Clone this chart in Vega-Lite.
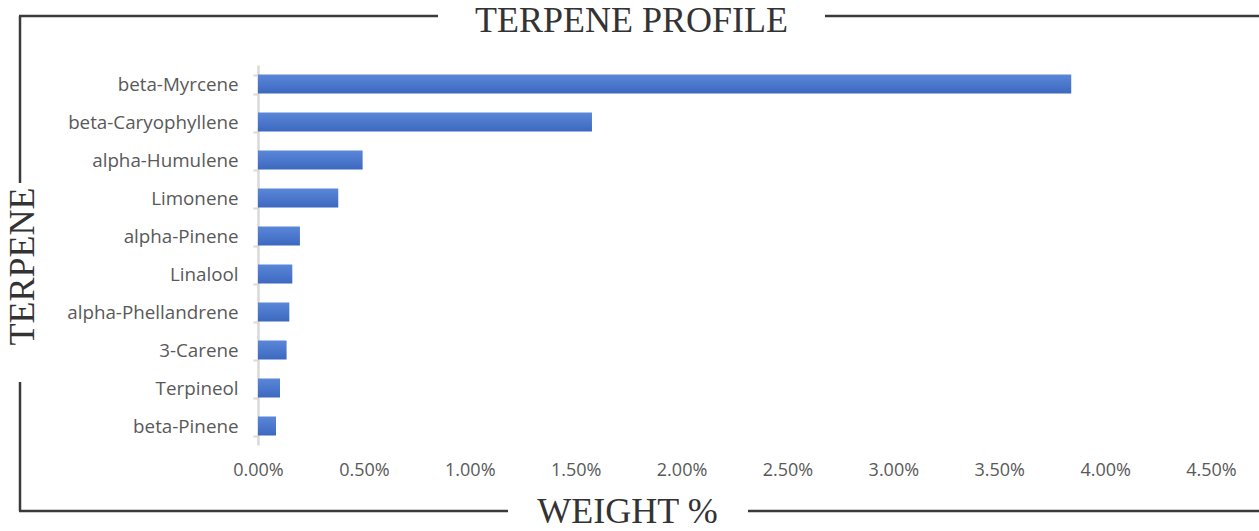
{
  "$schema": "https://vega.github.io/schema/vega-lite/v6.json",
  "autosize": {"type": "none"},
  "padding": {"left": 258, "top": 65, "right": 48, "bottom": 86},
  "width": 953,
  "height": 380,
  "background": "white",
  "config": {"view": {"stroke": null}},
  "title": {
    "text": "TERPENE PROFILE",
    "font": "Liberation Serif",
    "fontSize": 36,
    "fontWeight": "normal",
    "color": "#333333",
    "anchor": "middle",
    "frame": "group",
    "baseline": "alphabetic",
    "dx": -103,
    "offset": -53
  },
  "layer": [
    {
      "data": {
        "values": [
          {"terpene": "beta-Myrcene", "weight": 0.0384},
          {"terpene": "beta-Caryophyllene", "weight": 0.01577},
          {"terpene": "alpha-Humulene", "weight": 0.00494},
          {"terpene": "Limonene", "weight": 0.00379},
          {"terpene": "alpha-Pinene", "weight": 0.00198},
          {"terpene": "Linalool", "weight": 0.00162},
          {"terpene": "alpha-Phellandrene", "weight": 0.00148},
          {"terpene": "3-Carene", "weight": 0.00135},
          {"terpene": "Terpineol", "weight": 0.00104},
          {"terpene": "beta-Pinene", "weight": 0.00085}
        ]
      },
      "mark": {
        "type": "bar",
        "color": {
          "gradient": "linear",
          "x1": 0, "y1": 0, "x2": 0, "y2": 1,
          "stops": [
            {"offset": 0, "color": "#5b87d9"},
            {"offset": 1, "color": "#3c68bf"}
          ]
        }
      },
      "encoding": {
        "y": {
          "field": "terpene",
          "type": "nominal",
          "sort": null,
          "scale": {"paddingInner": 0.5, "paddingOuter": 0.25},
          "axis": {
            "title": "TERPENE",
            "titleFont": "Liberation Serif",
            "titleFontSize": 36,
            "titleFontWeight": "normal",
            "titleColor": "#333333",
            "titleAngle": -90,
            "titleAlign": "center",
            "titleBaseline": "middle",
            "titleX": -236,
            "titleY": 201,
            "labelFont": "Open Sans",
            "labelFontSize": 18.8,
            "labelColor": "#595959",
            "labelPadding": 15,
            "domainColor": "#d9d9d9",
            "domainWidth": 2.5,
            "tickColor": "#d9d9d9",
            "tickWidth": 2,
            "tickSize": 5,
            "tickBand": "extent",
            "grid": false
          }
        },
        "x": {
          "field": "weight",
          "type": "quantitative",
          "scale": {"domain": [0, 0.045], "nice": false},
          "axis": {
            "values": [0, 0.005, 0.01, 0.015, 0.02, 0.025, 0.03, 0.035, 0.04, 0.045],
            "format": ".2%",
            "title": "WEIGHT %",
            "titleFont": "Liberation Serif",
            "titleFontSize": 36,
            "titleFontWeight": "normal",
            "titleColor": "#333333",
            "titleAlign": "center",
            "titleBaseline": "alphabetic",
            "titleX": 369,
            "titleY": 77,
            "labelFont": "Open Sans",
            "labelFontSize": 18,
            "labelColor": "#595959",
            "labelPadding": 16,
            "labelFlush": false,
            "domain": false,
            "ticks": false,
            "grid": false
          }
        }
      }
    },
    {
      "data": {"values": [{}]},
      "mark": {"type": "rule", "stroke": "#3a3a3a", "strokeWidth": 2.5},
      "encoding": {"x": {"value": -239}, "x2": {"value": 180}, "y": {"value": -49}}
    },
    {
      "data": {"values": [{}]},
      "mark": {"type": "rule", "stroke": "#3a3a3a", "strokeWidth": 2.5},
      "encoding": {"x": {"value": 567}, "x2": {"value": 1001}, "y": {"value": -49}}
    },
    {
      "data": {"values": [{}]},
      "mark": {"type": "rule", "stroke": "#3a3a3a", "strokeWidth": 2.5},
      "encoding": {"x": {"value": -238}, "y": {"value": -49}, "y2": {"value": 118}}
    },
    {
      "data": {"values": [{}]},
      "mark": {"type": "rule", "stroke": "#3a3a3a", "strokeWidth": 2.5},
      "encoding": {"x": {"value": -238}, "y": {"value": 317}, "y2": {"value": 446}}
    },
    {
      "data": {"values": [{}]},
      "mark": {"type": "rule", "stroke": "#3a3a3a", "strokeWidth": 2.5},
      "encoding": {"x": {"value": -239}, "x2": {"value": 250}, "y": {"value": 446}}
    },
    {
      "data": {"values": [{}]},
      "mark": {"type": "rule", "stroke": "#3a3a3a", "strokeWidth": 2.5},
      "encoding": {"x": {"value": 490}, "x2": {"value": 1001}, "y": {"value": 446}}
    }
  ]
}
